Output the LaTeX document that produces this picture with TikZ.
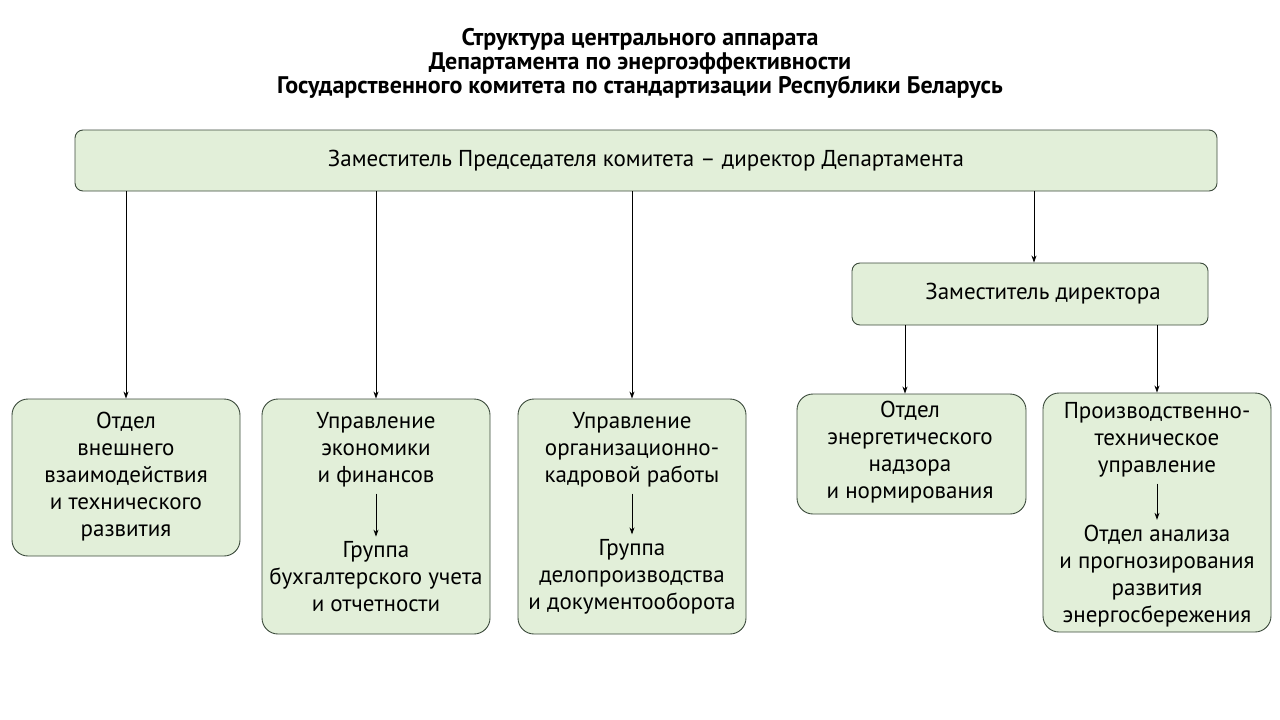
\documentclass[tikz,border=0pt]{standalone}
\usepackage{fontspec}
\setmainfont{PT Sans}
\usetikzlibrary{positioning, arrows.meta}
\definecolor{boxfill}{HTML}{E2EFD9}
\definecolor{boxline}{HTML}{3B4A3B}
\tikzset{
  unit/.style={draw=boxline, fill=boxfill, line width=0.9pt, rounded corners=16pt},
  head/.style={draw=boxline, fill=boxfill, line width=0.9pt, rounded corners=8pt},
  txt/.style={align=center, font=\fontsize{23}{27}\selectfont, inner sep=0pt},
  link/.style={-{Stealth[length=7pt,width=5pt]}, line width=0.8pt}
}
\begin{document}
\begin{tikzpicture}[x=1pt, y=-1pt]
  \useasboundingbox (0,0) rectangle (1280,720);
  %%%%%%%%%%%%%%%%%%%%%%%%%%%%%%%%%
  \node[txt, font=\fontsize{24}{24}\selectfont\bfseries] (title) at (640,63)
    {Структура центрального аппарата\\Департамента по энергоэффективности\\Государственного комитета по стандартизации Республики Беларусь};
  %%%%%%%%%%%%%%%%%%%%%%%%%%%%%%%%%
  \node[head, minimum width=1142pt, minimum height=61pt] (chief) at (646,160.5) {};
  \node[txt] at (chief) {Заместитель Председателя комитета – директор Департамента};
  \node[head, minimum width=356pt, minimum height=62pt] (deputy) at (1030,294) {};
  \node[txt] at (1043,294) {Заместитель директора};
  %%%%%%%%%%%%%%%%%%%%%%%%%%%%%%%%%
  \node[unit, minimum width=228pt, minimum height=157pt] (dept1) at (126,477.5) {};
  \node[unit, minimum width=228pt, minimum height=235pt] (dept2) at (376,516.5) {};
  \node[unit, minimum width=228pt, minimum height=235pt] (dept3) at (632,516.5) {};
  \node[unit, minimum width=229pt, minimum height=120pt] (dept4) at (911.5,454) {};
  \node[unit, minimum width=228pt, minimum height=239pt] (dept5) at (1157,512.5) {};
  %%%%%%%%%%%%%%%%%%%%%%%%%%%%%%%%%
  \node[txt] (t1) at (126,477) {Отдел\\внешнего\\взаимодействия\\и технического\\развития};
  \node[txt] (t2a) at (376,450) {Управление\\экономики\\и финансов};
  \node[txt] (t2b) at (376,577) {Группа\\бухгалтерского учета\\и отчетности};
  \node[txt] (t3a) at (632,450) {Управление\\организационно-\\кадровой работы};
  \node[txt] (t3b) at (632,577) {Группа\\делопроизводства\\и документооборота};
  \node[txt] (t4) at (910,452) {Отдел\\энергетического\\надзора\\и нормирования};
  \node[txt] (t5a) at (1157,440) {Производственно-\\техническое\\управление};
  \node[txt] (t5b) at (1157,576) {Отдел анализа\\и прогнозирования\\развития\\энергосбережения};
  %%%%%%%%%%%%%%%%%%%%%%%%%%%%%%%%%
  \draw[link] (chief.south -| dept1) -- (dept1.north);
  \draw[link] (chief.south -| dept2) -- (dept2.north);
  \draw[link] (chief.south -| dept3) -- (dept3.north);
  \draw[link] (chief.south -| 1034,0) -- (deputy.north -| 1034,0);
  \draw[link] (deputy.south -| 905,0) -- (dept4.north -| 905,0);
  \draw[link] (deputy.south -| dept5) -- (dept5.north);
  \draw[link, shorten <=6pt, shorten >=5pt] (t2a.south) -- (t2b.north);
  \draw[link, shorten <=6pt, shorten >=5pt] (t3a.south) -- (t3b.north);
  \draw[link, shorten <=6pt, shorten >=5pt] (t5a.south) -- (t5b.north);
\end{tikzpicture}
\end{document}
